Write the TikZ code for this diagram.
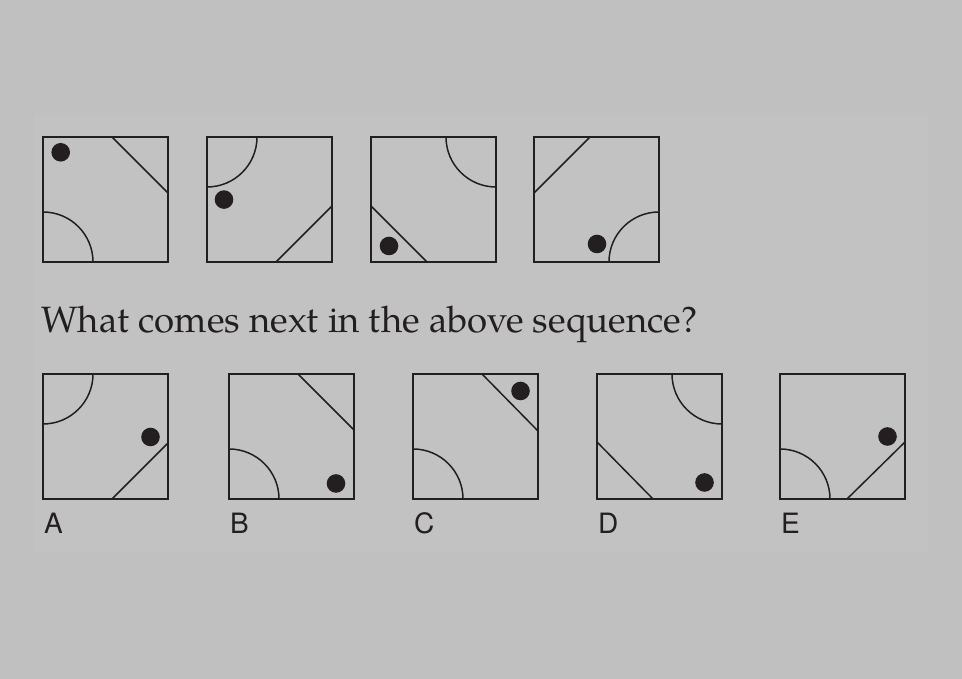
\documentclass[tikz,border=0pt]{standalone}
\usepackage{fontspec}
\usepackage{tikz}
\usetikzlibrary{calc}
\newfontfamily\questfont{TeX Gyre Pagella}
\newfontfamily\labelfont{TeX Gyre Heros}
\definecolor{ink}{HTML}{231F20}
\definecolor{paper}{HTML}{C0C0C0}
\definecolor{sheet}{HTML}{C2C2C2}

\begin{document}
\begin{tikzpicture}[x=1pt, y=1pt,
    cell/.style={draw=ink, line width=1.6pt},
    cut/.style={draw=ink, line width=1.5pt},
    blob/.style={fill=ink},
    every node/.style={inner sep=0pt, text=ink}]
  \fill[paper] (0,0) rectangle (962,679);
  \useasboundingbox (0,0) rectangle (962,679);
  \fill[sheet] (34,127) rectangle (928,564);
  % sequence row
  \foreach \x [count=\i] in {43,207,371,534} {
    \coordinate (t\i) at (\x,417);
    \draw[cell] (t\i) rectangle ++(125,125);
  }
  \begin{scope}[shift={(t1)}]
    \fill[blob] (17.7,109.7) circle (9.3);
    \draw[cut] (69,125) -- (125,69);
    \draw[cut] (0,50) arc[start angle=90, end angle=0, radius=50];
  \end{scope}
  \begin{scope}[shift={(t2)}]
    \draw[cut] (50,125) arc[start angle=0, end angle=-90, radius=50];
    \fill[blob] (17,62.4) circle (9.3);
    \draw[cut] (69,0) -- (125,56);
  \end{scope}
  \begin{scope}[shift={(t3)}]
    \draw[cut] (75,125) arc[start angle=180, end angle=270, radius=50];
    \draw[cut] (0,56) -- (56,0);
    \fill[blob] (18,16) circle (9.3);
  \end{scope}
  \begin{scope}[shift={(t4)}]
    \draw[cut] (56,125) -- (0,69);
    \draw[cut] (125,50) arc[start angle=90, end angle=180, radius=50];
    \fill[blob] (63,18) circle (9.3);
  \end{scope}
  \node[anchor=base west, font=\questfont\fontsize{36.6}{40}\selectfont] (question) at (41,346)
    {What comes next in the above sequence?};
  % answer row
  \foreach \x/\lab [count=\i] in {43/A,229/B,413/C,597/D,780/E} {
    \coordinate (b\i) at (\x,180);
    \draw[cell] (b\i) rectangle ++(125,125);
    \node[anchor=base west, font=\labelfont\fontsize{28}{30}\selectfont] (lab\lab) at ($(b\i)+(1,-35)$) {\lab};
  }
  \begin{scope}[shift={(b1)}]
    \draw[cut] (50,125) arc[start angle=0, end angle=-90, radius=50];
    \fill[blob] (107.5,62) circle (9.3);
    \draw[cut] (69,0) -- (125,56);
  \end{scope}
  \begin{scope}[shift={(b2)}]
    \draw[cut] (69,125) -- (125,69);
    \draw[cut] (0,50) arc[start angle=90, end angle=0, radius=50];
    \fill[blob] (107,15.5) circle (9.3);
  \end{scope}
  \begin{scope}[shift={(b3)}]
    \draw[cut] (69,125) -- (125,68);
    \fill[blob] (107.5,108) circle (9.3);
    \draw[cut] (0,50) arc[start angle=90, end angle=0, radius=50];
  \end{scope}
  \begin{scope}[shift={(b4)}]
    \draw[cut] (75,125) arc[start angle=180, end angle=270, radius=50];
    \draw[cut] (0,57) -- (56,0);
    \fill[blob] (107.5,16.5) circle (9.3);
  \end{scope}
  \begin{scope}[shift={(b5)}]
    \draw[cut] (0,50) arc[start angle=90, end angle=0, radius=50];
    \draw[cut] (67,0) -- (125,57);
    \fill[blob] (107.5,62.5) circle (9.3);
  \end{scope}
\end{tikzpicture}
\end{document}
